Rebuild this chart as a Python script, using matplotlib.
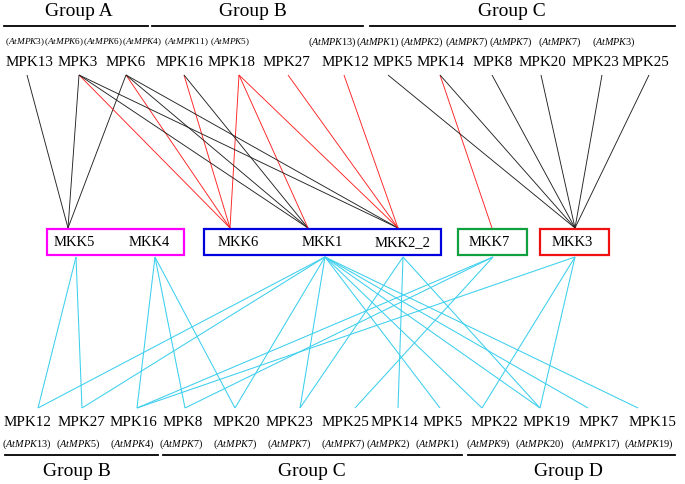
import matplotlib
matplotlib.use("Agg")
import matplotlib.pyplot as plt
from matplotlib.patches import Rectangle

plt.rcParams['font.family'] = ['Liberation Serif', 'DejaVu Serif']
plt.rcParams['mathtext.fontset'] = 'custom'
plt.rcParams['mathtext.rm'] = 'Liberation Serif'
plt.rcParams['mathtext.it'] = 'Liberation Serif:italic'

# ---------------- data ----------------
top_nodes = ["MPK13", "MPK3", "MPK6", "MPK16", "MPK18", "MPK27", "MPK12",
             "MPK5", "MPK14", "MPK8", "MPK20", "MPK23", "MPK25"]
top_orthologs = ["AtMPK3", "AtMPK6", "AtMPK6", "AtMPK4", "AtMPK11", "AtMPK5", "AtMPK13",
                 "AtMPK1", "AtMPK2", "AtMPK7", "AtMPK7", "AtMPK7", "AtMPK3"]
top_groups = ["Group A", "Group B", "Group C"]

bottom_nodes = ["MPK12", "MPK27", "MPK16", "MPK8", "MPK20", "MPK23", "MPK25",
                "MPK14", "MPK5", "MPK22", "MPK19", "MPK7", "MPK15"]
bottom_orthologs = ["AtMPK13", "AtMPK5", "AtMPK4", "AtMPK7", "AtMPK7", "AtMPK7", "AtMPK7",
                    "AtMPK2", "AtMPK1", "AtMPK9", "AtMPK20", "AtMPK17", "AtMPK19"]
bottom_groups = ["Group B", "Group C", "Group D"]

mkk_nodes = ["MKK5", "MKK4", "MKK6", "MKK1", "MKK2_2", "MKK7", "MKK3"]

# upper interactions (MPK, MKK, type)
top_edges = [
    ("MPK13", "MKK5", "k"), ("MPK3", "MKK5", "k"), ("MPK6", "MKK5", "k"),
    ("MPK3", "MKK6", "r"), ("MPK6", "MKK6", "r"), ("MPK16", "MKK6", "r"), ("MPK18", "MKK6", "r"),
    ("MPK3", "MKK1", "k"), ("MPK6", "MKK1", "k"), ("MPK16", "MKK1", "k"), ("MPK18", "MKK1", "r"),
    ("MPK3", "MKK2_2", "k"), ("MPK6", "MKK2_2", "k"), ("MPK18", "MKK2_2", "r"),
    ("MPK27", "MKK2_2", "r"), ("MPK12", "MKK2_2", "r"),
    ("MPK14", "MKK7", "r"),
    ("MPK5", "MKK3", "k"), ("MPK14", "MKK3", "k"), ("MPK8", "MKK3", "k"),
    ("MPK20", "MKK3", "k"), ("MPK23", "MKK3", "k"), ("MPK25", "MKK3", "k"),
]
# lower interactions (MKK, MPK)
bottom_edges = [
    ("MKK5", "MPK12"), ("MKK5", "MPK27"),
    ("MKK4", "MPK16"), ("MKK4", "MPK8"), ("MKK4", "MPK20"),
    ("MKK1", "MPK12"), ("MKK1", "MPK27"), ("MKK1", "MPK20"), ("MKK1", "MPK23"),
    ("MKK1", "MPK5"), ("MKK1", "MPK22"), ("MKK1", "MPK19"), ("MKK1", "MPK7"), ("MKK1", "MPK15"),
    ("MKK2_2", "MPK23"), ("MKK2_2", "MPK14"), ("MKK2_2", "MPK19"),
    ("MKK7", "MPK16"), ("MKK7", "MPK8"), ("MKK7", "MPK25"),
    ("MKK3", "MPK16"), ("MKK3", "MPK22"), ("MKK3", "MPK19"),
]

# ---------------- layout (pixel coordinates) ----------------
top_label_x = [29, 78, 126, 179, 232, 286, 345, 393, 440, 493, 542, 595, 645]
top_anchor_x = [27, 79, 126, 184, 239, 288, 344, 388, 440, 492, 541, 602, 649]
top_orth_x = [25, 64, 103, 142, 186, 230, 332, 378, 422, 467, 511, 560, 614]
top_orth_size = [6.7] * 6 + [7.3] * 7
top_group_span = [(4, 148), (152, 363), (370, 675)]
top_group_x = [79, 253, 512]

bottom_label_x = [27, 81, 133, 183, 236, 289, 345, 394, 443, 494, 546, 599, 652]
bottom_anchor_x = [38, 82, 137, 185, 235, 300, 355, 398, 440, 482, 540, 588, 638]
bottom_orth_x = [27, 78, 132, 181, 235, 289, 343, 388, 437, 488, 540, 596, 649]
bottom_group_span = [(5, 158), (163, 462), (468, 675)]
bottom_group_x = [77, 312, 568]

mkk_label_x = [74, 149, 238, 322, 403, 489, 572]
mkk_top_x = [68, 149, 230, 308, 398, 492, 575]
mkk_bot_x = [76, 155, 238, 325, 403, 493, 575]
box_spans = [(47, 184), (204, 441), (458, 527), (540, 609)]
box_colors = ["#ff00ff", "#0000dd", "#10a040", "#ee1111"]

Y_GROUP_T, Y_LINE_T, Y_ORTH_T, Y_LAB_T, Y_ANC_T = 11, 26, 42, 62, 75
Y_BOX0, Y_BOX1, Y_MKK = 229, 255, 243
Y_ANC_B, Y_LAB_B, Y_ORTH_B, Y_LINE_B, Y_GROUP_B = 408, 422, 444, 455, 472

edge_colors = {"k": "#222222", "r": "#ff2020"}
cyan = "#3ccfee"

# ---------------- drawing ----------------
fig = plt.figure(figsize=(6.85, 4.84), dpi=100)
ax = fig.add_axes([0, 0, 1, 1])
ax.set_xlim(0, 685)
ax.set_ylim(484, 0)
ax.axis("off")

tpos = dict(zip(top_nodes, top_anchor_x))
bpos = dict(zip(bottom_nodes, bottom_anchor_x))
mtop = dict(zip(mkk_nodes, mkk_top_x))
mbot = dict(zip(mkk_nodes, mkk_bot_x))

for mpk, mkk, c in top_edges:
    ax.plot([tpos[mpk], mtop[mkk]], [Y_ANC_T, Y_BOX0 - 1], color=edge_colors[c], lw=0.65,
            solid_capstyle="butt", zorder=1)
for mkk, mpk in bottom_edges:
    ax.plot([mbot[mkk], bpos[mpk]], [Y_BOX1 + 2, Y_ANC_B], color=cyan, lw=0.75,
            solid_capstyle="butt", zorder=1)

for (x0, x1), col in zip(box_spans, box_colors):
    ax.add_patch(Rectangle((x0, Y_BOX0), x1 - x0, Y_BOX1 - Y_BOX0, fill=True, facecolor="white",
                           edgecolor=col, lw=1.6, zorder=2))
for name, x in zip(mkk_nodes, mkk_label_x):
    ax.text(x, Y_MKK, name, ha="center", va="center", fontsize=10.5, zorder=3)

for name, x in zip(top_nodes, top_label_x):
    ax.text(x, Y_LAB_T, name, ha="center", va="center", fontsize=10.8)
for name, x, s in zip(top_orthologs, top_orth_x, top_orth_size):
    ax.text(x, Y_ORTH_T, "($\\mathit{%s}$)" % name, ha="center", va="center", fontsize=s)
for (x0, x1) in top_group_span:
    ax.plot([x0, x1], [Y_LINE_T, Y_LINE_T], color="black", lw=1.3)
for name, x in zip(top_groups, top_group_x):
    ax.text(x, Y_GROUP_T, name, ha="center", va="center", fontsize=14)

for name, x in zip(bottom_nodes, bottom_label_x):
    ax.text(x, Y_LAB_B, name, ha="center", va="center", fontsize=10.8)
for name, x in zip(bottom_orthologs, bottom_orth_x):
    ax.text(x, Y_ORTH_B, "($\\mathit{%s}$)" % name, ha="center", va="center", fontsize=7.4)
for (x0, x1) in bottom_group_span:
    ax.plot([x0, x1], [Y_LINE_B, Y_LINE_B], color="black", lw=1.3)
for name, x in zip(bottom_groups, bottom_group_x):
    ax.text(x, Y_GROUP_B, name, ha="center", va="center", fontsize=14)

fig.savefig("out.png", dpi=100, facecolor="white")
